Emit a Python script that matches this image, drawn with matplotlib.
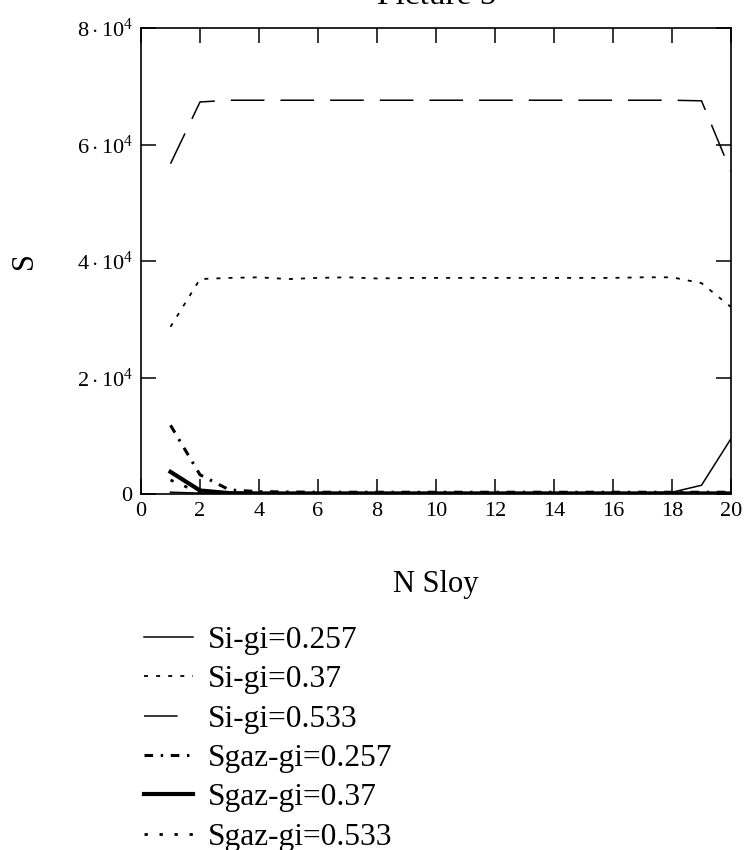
import matplotlib
matplotlib.use("Agg")
import matplotlib.pyplot as plt
import numpy as np

plt.rcParams["font.family"] = ["Liberation Serif", "DejaVu Serif"]
plt.rcParams["mathtext.fontset"] = "custom"
plt.rcParams["mathtext.rm"] = "Liberation Serif"
plt.rcParams["mathtext.it"] = "Liberation Serif"

# layers 1..20
n_sloy = list(range(1, 21))

si_257 = [300, 150, 100, 100, 100, 100, 100, 100, 100, 100,
          100, 100, 100, 100, 100, 150, 200, 300, 1500, 9500]
si_37 = [28700, 36900, 37100, 37200, 36900, 37100, 37200, 37000, 37100, 37100,
         37100, 37100, 37100, 37100, 37100, 37100, 37200, 37200, 36200, 32100]
si_533 = [56700, 67300, 67600, 67600, 67600, 67600, 67600, 67600, 67600, 67600,
          67600, 67600, 67600, 67600, 67600, 67600, 67600, 67600, 67500, 55300]
sgaz_257 = [11800, 3300, 700, 400, 350, 300, 300, 300, 300, 300,
            300, 300, 300, 300, 300, 300, 300, 300, 300, 300]
sgaz_37 = [3800, 600, 150, 100, 100, 100, 100, 100, 100, 100,
           100, 100, 100, 100, 100, 100, 100, 100, 100, 100]
sgaz_533 = [2400, 200, 100, 50, 50, 50, 50, 50, 50, 50,
            50, 50, 50, 50, 50, 50, 50, 50, 50, 50]

labels = ["Si-gi=0.257", "Si-gi=0.37", "Si-gi=0.533",
          "Sgaz-gi=0.257", "Sgaz-gi=0.37", "Sgaz-gi=0.533"]

x_ticks = list(range(0, 21, 2))
y_ticks = [0, 20000, 40000, 60000, 80000]
y_tick_labels = ["0", r"$2\cdot10^{4}$", r"$4\cdot10^{4}$",
                 r"$6\cdot10^{4}$", r"$8\cdot10^{4}$"]

fig = plt.figure(figsize=(7.46, 8.5), dpi=100)
ax = fig.add_axes([141 / 746, 1 - 494 / 850, (731 - 141) / 746, (494 - 28) / 850])

ax.plot(n_sloy, si_257, color="black", lw=1.1, ls="-", label=labels[0])
ax.plot(n_sloy, si_37, color="black", lw=1.3, ls=(0, (2.2, 4.5)), label=labels[1])
ax.plot(n_sloy, si_533, color="black", lw=1.1, ls=(0, (22, 10.5)), label=labels[2])
ax.plot(n_sloy, sgaz_257, color="black", lw=2.2, ls=(0, (2.8, 2.5, 0.8, 2.5)), label=labels[3])
ax.plot(n_sloy, sgaz_37, color="black", lw=3.0, ls="-", label=labels[4])
ax.plot(n_sloy, sgaz_533, color="black", lw=2.0, ls=(0, (1.2, 4.2)), label=labels[5])

ax.set_xlim(0, 20)
ax.set_ylim(0, 80000)
ax.set_xticks(x_ticks)
ax.set_yticks(y_ticks)
ax.set_yticklabels(y_tick_labels)
ax.tick_params(direction="in", length=11, width=1.1, top=True, right=True,
               labelsize=16, pad=6)
for sp in ax.spines.values():
    sp.set_linewidth(1.2)

ax.set_xlabel("N Sloy", fontsize=22, labelpad=35)
ax.set_ylabel("S", fontsize=22, labelpad=27)

fig.text(0.585, 1 - 4 / 850, "Picture 5", ha="center", va="baseline", fontsize=24)

fig.legend(loc="upper left", bbox_to_anchor=(144 / 746, 1 - 626 / 850),
           frameon=False, fontsize=22.6, handlelength=1.56, handletextpad=0.48,
           labelspacing=0.33, borderpad=0, borderaxespad=0)

fig.savefig("out.png", dpi=100)
